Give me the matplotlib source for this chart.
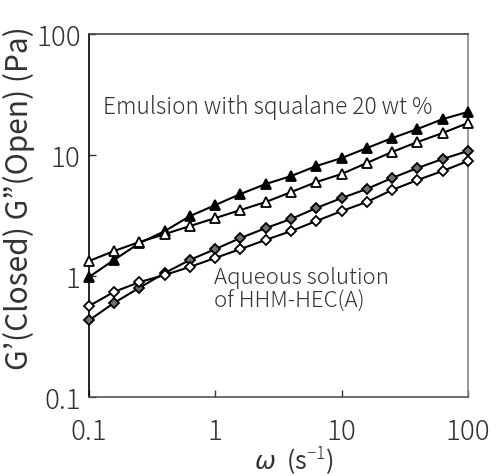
import matplotlib
matplotlib.use("Agg")
import matplotlib.pyplot as plt

plt.rcParams["font.family"] = ["Noto Sans CJK JP", "DejaVu Sans"]
plt.rcParams["font.weight"] = "light"
plt.rcParams["mathtext.fontset"] = "custom"
plt.rcParams["mathtext.rm"] = "Noto Sans CJK JP"
plt.rcParams["mathtext.it"] = "DejaVu Sans:italic"

# angular frequency (s^-1), 5 points per decade
omega = [0.1, 0.158, 0.251, 0.398, 0.631, 1.0, 1.58, 2.51, 3.98, 6.31,
         10.0, 15.8, 25.1, 39.8, 63.1, 100.0]

# emulsion with squalane 20 wt %
emul_g1 = [0.98, 1.36, 1.87, 2.35, 3.13, 3.86, 4.76, 5.76, 6.70, 8.11,
           9.44, 11.4, 13.8, 16.4, 19.8, 22.7]
emul_g2 = [1.33, 1.61, 1.91, 2.22, 2.59, 3.01, 3.51, 4.09, 4.94, 5.98,
           6.97, 8.59, 10.6, 12.8, 15.2, 18.4]

# aqueous solution of HHM-HEC(A)
aq_g1 = [0.43, 0.60, 0.80, 1.06, 1.36, 1.67, 2.06, 2.49, 2.96, 3.65,
         4.41, 5.24, 6.46, 7.81, 9.27, 10.8]
aq_g2 = [0.565, 0.74, 0.89, 1.02, 1.19, 1.41, 1.67, 1.99, 2.35, 2.85,
         3.44, 4.09, 5.14, 6.21, 7.38, 8.92]

ticks = [0.1, 1, 10, 100]
tick_labels = ["0.1", "1", "10", "100"]

TEXT_COLOR = "#333333"


def main():
    fig = plt.figure(figsize=(4.98, 4.77), dpi=100)
    ax = fig.add_axes([0.1787, 0.1656, 0.761, 0.761])

    line_kw = dict(color="black", linewidth=1.5, markeredgecolor="black",
                   markeredgewidth=1.3, clip_on=False, zorder=3)
    ax.plot(omega, aq_g1, marker="D", markersize=5.5,
            markerfacecolor="#707070", **line_kw)
    ax.plot(omega, aq_g2, marker="D", markersize=5.5,
            markerfacecolor="white", **line_kw)
    ax.plot(omega, emul_g1, marker="^", markersize=7.5,
            markerfacecolor="black", **line_kw)
    ax.plot(omega, emul_g2, marker="^", markersize=7.5,
            markerfacecolor="white", **line_kw)

    ax.set_xscale("log")
    ax.set_yscale("log")
    ax.set_xlim(0.1, 100)
    ax.set_ylim(0.1, 100)
    ax.set_xticks(ticks)
    ax.set_xticklabels(tick_labels)
    ax.set_yticks(ticks)
    ax.set_yticklabels(tick_labels)
    ax.minorticks_off()
    ax.tick_params(axis="both", which="major", direction="in", length=5,
                   width=1.0, labelsize=20, color="#333333",
                   labelcolor=TEXT_COLOR)
    ax.tick_params(axis="x", pad=14.5)
    ax.tick_params(axis="y", pad=6)

    ax.spines["left"].set_color("black")
    ax.spines["bottom"].set_color("#555555")
    ax.spines["right"].set_color("#888888")
    ax.spines["top"].set_color("#444444")
    for s in ax.spines.values():
        s.set_linewidth(1.2)

    ax.set_ylabel("G’(Closed) G”(Open) (Pa)", fontsize=21.5, color=TEXT_COLOR)
    ax.yaxis.set_label_coords(-0.142, 0.55)
    ax.set_xlabel(r"$\omega$  (s$^{-1}$)", fontsize=18, color=TEXT_COLOR)
    ax.xaxis.label.set_verticalalignment("bottom")
    ax.xaxis.set_label_coords(0.54, -0.216)

    ax.text(0.037, 0.799, "Emulsion with squalane 20 wt %",
            transform=ax.transAxes, fontsize=16.3, ha="left", va="center",
            color=TEXT_COLOR)
    ax.text(0.330, 0.298, "Aqueous solution\nof HHM-HEC(A)",
            transform=ax.transAxes, fontsize=16.0, ha="left", va="center",
            linespacing=1.1, color=TEXT_COLOR)

    fig.savefig("out.png", dpi=100)
    plt.close(fig)


if __name__ == "__main__":
    main()
